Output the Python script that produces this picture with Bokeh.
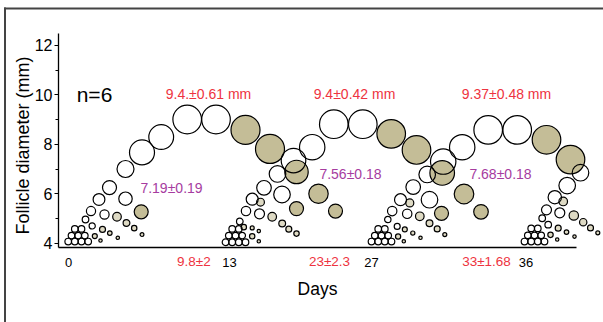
import math
from bokeh.plotting import figure
from bokeh.models import Range1d, FixedTicker, Label, BoxAnnotation
from bokeh.embed import file_html
from bokeh.resources import INLINE

FONT = "Liberation Sans"

# Schematic follicle waves: t = schematic time position, d = follicle diameter (mm),
# r = drawn radius (mm, y-units), s = stage (w growing, k regressing, l small regressing)
w1_t = [-0.3, 6.3, 13, 19.7, 3, 9.7, 16.3, 6.3, 13,
        17, 22.5, 30.5, 41, 57, 73.5, 92.7, 118.7, 147.5,
        177, 201.5, 228, 250, 267,
        36, 57, 72.7, 23.7,
        48.5, 58, 65.7, 73.5, 34, 41.3, 49.3, 26.3, 32]
w1_d = [4.08, 4.08, 4.08, 4.08, 4.32, 4.32, 4.32, 4.59, 4.59,
        4.97, 5.31, 5.78, 6.26, 7.01, 7.68, 8.30, 9.01, 9.01,
        8.59, 7.82, 6.89, 6.01, 5.31,
        5.17, 5.81, 5.28, 4.71,
        5.08, 4.83, 4.62, 4.36, 4.57, 4.42, 4.23, 4.30, 4.12]
w1_r = [0.133, 0.133, 0.133, 0.133, 0.133, 0.133, 0.133, 0.133, 0.133,
        0.133, 0.186, 0.238, 0.283, 0.343, 0.505, 0.501, 0.578, 0.578,
        0.586, 0.586, 0.473, 0.392, 0.283,
        0.186, 0.271, 0.283, 0.125,
        0.174, 0.137, 0.109, 0.077, 0.121, 0.093, 0.069, 0.101, 0.069]
w1_s = ["w", "w", "w", "w", "w", "w", "w", "w", "w",
        "w", "w", "w", "w", "w", "w", "w", "w", "w",
        "k", "k", "k", "k", "k",
        "w", "w", "k", "w",
        "l", "l", "l", "l", "l", "l", "l", "l", "l"]

w2_t = [157, 163.7, 170.3, 177, 160.3, 167, 173.7, 163.7, 170.3,
        171.3, 177.5, 183.7, 195.5, 209, 225, 243.7, 265.3, 294.3,
        322.7, 348, 373.7, 395.5, 412.5,
        191, 213.5, 228,
        192, 203.7, 213.7, 220.3, 228, 175.3, 183.7, 190.3, 183.7, 190.3]
w2_d = [4.05, 4.05, 4.05, 4.05, 4.32, 4.32, 4.32, 4.59, 4.59,
        4.89, 5.31, 5.79, 6.25, 6.81, 7.35, 7.89, 8.82, 8.82,
        8.43, 7.78, 6.85, 6.00, 5.28,
        5.20, 5.98, 5.41,
        5.67, 5.08, 4.81, 4.58, 4.40, 4.66, 4.63, 4.50, 4.29, 4.09]
w2_r = [0.133, 0.133, 0.133, 0.133, 0.133, 0.133, 0.133, 0.133, 0.133,
        0.133, 0.190, 0.242, 0.295, 0.335, 0.497, 0.513, 0.578, 0.578,
        0.578, 0.578, 0.497, 0.396, 0.295,
        0.202, 0.335, 0.283,
        0.158, 0.174, 0.137, 0.121, 0.109, 0.109, 0.081, 0.069, 0.109, 0.069]
w2_s = ["w", "w", "w", "w", "w", "w", "w", "w", "w",
        "w", "w", "w", "w", "w", "w", "w", "w", "w",
        "k", "k", "k", "k", "k",
        "w", "w", "k",
        "l", "l", "l", "l", "l", "l", "l", "l", "l", "l"]

w3_t = [303, 309.7, 316.3, 323, 306.3, 313, 319.7, 309.7, 316.3,
        319.3, 323.7, 332, 344.7, 358.7, 374.7, 393.7, 419.7, 448.7,
        478, 502,
        338.7, 361, 373, 328.7,
        341.3, 351.3, 361, 368.7, 376.3, 336.3, 344.3, 329.6, 335.3, 352]
w3_d = [4.08, 4.08, 4.08, 4.08, 4.32, 4.32, 4.32, 4.59, 4.59,
        4.97, 5.31, 5.77, 6.28, 6.79, 7.31, 7.89, 8.59, 8.59,
        8.19, 7.39,
        5.20, 5.77, 5.22, 4.69,
        5.64, 5.10, 4.82, 4.59, 4.36, 4.57, 4.42, 4.28, 4.09, 4.23]
w3_r = [0.133, 0.133, 0.133, 0.133, 0.133, 0.133, 0.133, 0.133, 0.133,
        0.129, 0.190, 0.242, 0.295, 0.335, 0.513, 0.513, 0.578, 0.578,
        0.578, 0.578,
        0.190, 0.335, 0.283, 0.121,
        0.162, 0.174, 0.137, 0.121, 0.081, 0.100, 0.085, 0.105, 0.069, 0.069]
w3_s = ["w", "w", "w", "w", "w", "w", "w", "w", "w",
        "w", "w", "w", "w", "w", "w", "w", "w", "w",
        "k", "k",
        "w", "w", "k", "w",
        "l", "l", "l", "l", "l", "l", "l", "l", "l", "l"]

w4_t = [456, 462.7, 469.3, 476, 459.3, 466, 472.7, 462.7, 469.3,
        473.7, 478, 486.3, 498.7, 512,
        491.3, 479.7,
        494.7, 505.3, 514.7, 522, 529.3, 489.7, 498, 506, 482, 488.7]
w4_d = [4.08, 4.08, 4.08, 4.08, 4.33, 4.33, 4.33, 4.61, 4.61,
        5.02, 5.36, 5.87, 6.34, 6.86,
        5.24, 4.76,
        5.70, 5.13, 4.86, 4.63, 4.43, 4.62, 4.46, 4.28, 4.35, 4.16]
w4_r = [0.133, 0.133, 0.133, 0.133, 0.133, 0.133, 0.133, 0.133, 0.133,
        0.133, 0.202, 0.271, 0.335, 0.335,
        0.202, 0.133,
        0.174, 0.190, 0.149, 0.121, 0.081, 0.121, 0.093, 0.069, 0.109, 0.069]
w4_s = ["w", "w", "w", "w", "w", "w", "w", "w", "w",
        "w", "w", "w", "w", "w",
        "w", "w",
        "l", "l", "l", "l", "l", "l", "l", "l", "l", "l"]

# Axis ticks
x_tick_pos = [0, 161, 303, 457.5]
x_tick_lab = ["0", "13", "27", "36"]
y_ticks = [4, 6, 8, 10, 12]
y_minor = [5, 7, 9, 11]

# Annotations
ovul_text = ["9.8\u00b12", "23\u00b12.3", "33\u00b11.68"]
ovul_t = [125.4, 261, 418]
max_text = ["9.4.\u00b10.61 mm", "9.4\u00b10.42 mm", "9.37\u00b10.48 mm"]
max_t = [140, 286, 438]
sub_text = ["7.19\u00b10.19", "7.56\u00b10.18", "7.68\u00b10.18"]
sub_t = [103, 282, 432]
sub_d = [6.26, 6.79, 6.79]

RED = "#ee3340"
PURPLE = "#a63c9f"
KHAKI = "#c4bd97"
LIGHT = "#dedac4"

Y0, Y1 = 3.838, 12.485   # axis extents (mm)
X0, X1 = -10, 508        # axis extents (schematic time)

p = figure(width=603, height=322, output_backend="svg", toolbar_location=None,
           x_range=Range1d(-68, 535), y_range=Range1d(0.808, 13.818),
           min_border_left=0, min_border_right=0, min_border_top=0, min_border_bottom=0)
p.xgrid.visible = False
p.ygrid.visible = False
p.outline_line_color = None
p.background_fill_color = "white"
p.border_fill_color = "white"

# y axis
ya = p.yaxis[0]
ya.fixed_location = X0
ya.bounds = (Y0, Y1)
ya.ticker = FixedTicker(ticks=y_ticks, minor_ticks=y_minor)
ya.major_label_text_font = FONT
ya.major_label_text_font_size = "16px"
ya.major_label_text_color = "black"
ya.major_label_standoff = 2
ya.major_tick_out = 4
ya.major_tick_in = 0
ya.minor_tick_out = 3
ya.minor_tick_in = 0
ya.axis_line_width = 1.3
ya.axis_line_color = "black"
ya.major_tick_line_color = "black"
ya.minor_tick_line_color = "black"
ya.major_tick_line_width = 1.2
ya.minor_tick_line_width = 1.2

# x axis
xa = p.xaxis[0]
xa.fixed_location = Y0
xa.bounds = (X0, X1)
xa.ticker = FixedTicker(ticks=x_tick_pos, minor_ticks=[])
xa.major_label_overrides = {x_tick_pos[i]: x_tick_lab[i] for i in range(len(x_tick_pos))}
xa.axis_label = "Days"
xa.axis_label_text_font = FONT
xa.axis_label_text_font_size = "17.5px"
xa.axis_label_text_font_style = "normal"
xa.axis_label_text_color = "black"
xa.axis_label_standoff = 9
xa.major_label_text_font = FONT
xa.major_label_text_font_size = "13px"
xa.major_label_text_color = "black"
xa.major_label_standoff = 10
xa.major_tick_out = 0
xa.major_tick_in = 0
xa.minor_tick_out = 0
xa.axis_line_width = 1.3
xa.axis_line_color = "black"

waves = [(w1_t, w1_d, w1_r, w1_s), (w2_t, w2_d, w2_r, w2_s),
         (w3_t, w3_d, w3_r, w3_s), (w4_t, w4_d, w4_r, w4_s)]

fills = {"k": KHAKI, "l": LIGHT}
for kind in ["l", "k", "w"]:
    xs, ys, rs = [], [], []
    for t, d, r, s in waves:
        for i in range(len(t)):
            if s[i] == kind:
                xs.append(t[i]); ys.append(d[i]); rs.append(r[i])
    p.circle(xs, ys, radius=rs, radius_dimension="y",
             fill_color=fills.get(kind), fill_alpha=1.0 if kind != "w" else 0.0,
             line_color="black", line_width=1.2)

def add_label(txt, x, y, size, color, angle=0.0):
    p.add_layout(Label(x=x, y=y, text=txt, text_font=FONT, text_font_size=size,
                       text_color=color, text_align="center", text_baseline="middle",
                       angle=angle))

# y-axis title
add_label("Follicle diameter (mm)", -45.8, 7.96, "18px", "black", angle=math.pi / 2)

add_label("n=6", 26, 10.0, "21px", "black")
for i in range(3):
    add_label(max_text[i], max_t[i], 10.06, "14px", RED)
    add_label(sub_text[i], sub_t[i], sub_d[i], "14px", PURPLE)
    add_label(ovul_text[i], ovul_t[i], 3.253, "13.5px", RED)

# outer frame (left and top edges)
p.add_layout(BoxAnnotation(left=-64.5, right=-62.5, bottom=0.808, top=13.535,
                           fill_color="#444444", fill_alpha=1, line_color=None))
p.add_layout(BoxAnnotation(left=-64.5, right=535, bottom=13.455, top=13.535,
                           fill_color="#444444", fill_alpha=1, line_color=None))

open("out.html", "w").write(file_html(p, INLINE))
